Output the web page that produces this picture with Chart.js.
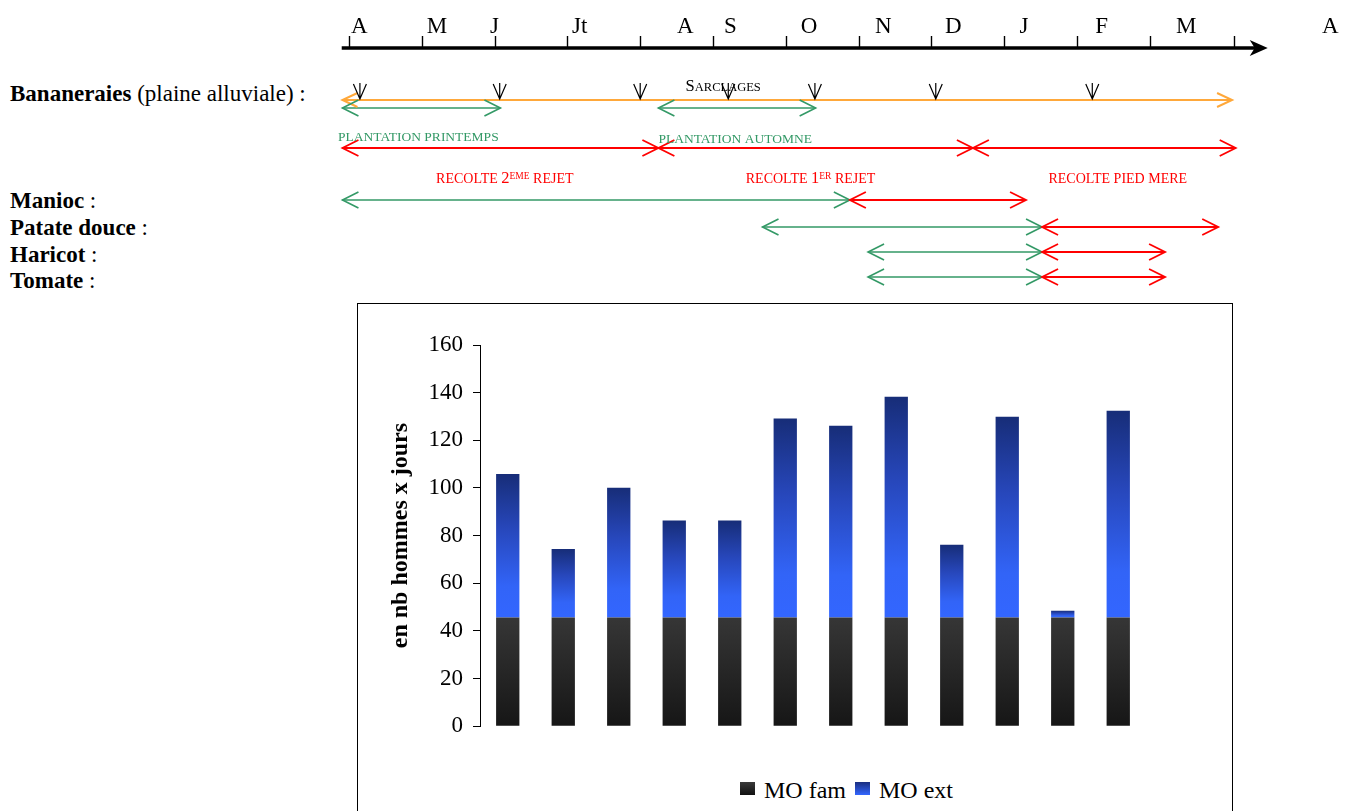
<!DOCTYPE html>
<html>
<head>
<meta charset="utf-8">
<script src="https://cdn.jsdelivr.net/npm/chart.js@4.4.1/dist/chart.umd.min.js"></script>
<style>
  html, body { margin: 0; padding: 0; background: #fff; width: 1348px; height: 811px; overflow: hidden; }
  body { position: relative; font-family: 'Liberation Serif', 'Times New Roman', serif; color: #000; }
  .crop { position: absolute; left: 10px; font-size: 23px; line-height: 23px; white-space: nowrap; }
  #timeline { position: absolute; left: 0; top: 0; }
  #frame { position: absolute; left: 357px; top: 303px; width: 876px; height: 540px; border: 1px solid #000; box-sizing: border-box; }
  #bars { position: absolute; left: 357px; top: 303px; }
  #legend { position: absolute; left: 740px; top: 778px; display: flex; align-items: flex-start; font-size: 24px; line-height: 24px; white-space: nowrap; }
  #legend .box { width: 15px; height: 13px; margin-top: 4px; margin-right: 9px; }
  #legend .item { display: flex; align-items: flex-start; margin-right: 9px; }
</style>
</head>
<body>
<div class="crop" style="top:82px"><b>Bananeraies</b> (plaine alluviale) :</div>
<div class="crop" style="top:189px"><b>Manioc</b> :</div>
<div class="crop" style="top:216px"><b>Patate douce</b> :</div>
<div class="crop" style="top:243px"><b>Haricot</b> :</div>
<div class="crop" style="top:269px"><b>Tomate</b> :</div>

<canvas id="timeline" width="1348" height="300"></canvas>
<div id="frame"></div>
<canvas id="bars" width="875" height="447"></canvas>
<div id="legend"></div>

<script>
// ---- calendrier (mois comptés depuis début avril = 0) ----
const monthLabels = ['A', 'M', 'J', 'Jt', 'A', 'S', 'O', 'N', 'D', 'J', 'F', 'M', 'A'];
const monthLabelPos = [0.14, 1.21, 2.0, 3.17, 4.62, 5.24, 6.32, 7.34, 8.3, 9.27, 10.34, 11.5, 13.48];
const monthTicks = [0, 1, 2, 3, 4, 5, 6, 7, 8, 9, 10, 11, 12.15];
const axisSpan = [-0.1, 12.62];

const bananeCycle = [[-0.09, 12.13]];
const plantationSpans = [[-0.09, 2.08], [4.25, 6.41]];
const recolteSpans = [[-0.09, 4.25], [4.25, 8.57], [8.57, 12.18]];
const sarclages = [0.15, 2.07, 4.0, 5.21, 6.4, 8.06, 10.21];

const cropNames = ['Manioc', 'Patate douce', 'Haricot', 'Tomate'];
const cropGrowth = [[-0.09, 6.88], [5.68, 9.52], [7.13, 9.52], [7.13, 9.52]];
const cropHarvest = [[6.88, 9.3], [9.52, 11.94], [9.52, 11.21], [9.52, 11.21]];

const plantationLabels = ['PLANTATION PRINTEMPS', 'PLANTATION AUTOMNE'];
const plantationLabelStart = [-0.15, 4.25];
const recolteLabels = [
  [['RECOLTE ', 14], ['2', 16.5], ['EME', 9.5, 4.5], [' REJET', 14]],
  [['RECOLTE ', 14], ['1', 16.5], ['ER', 9.5, 4.5], [' REJET', 14]],
  [['RECOLTE PIED MERE', 14]]
];
const recolteLabelCenter = [2.14, 6.34, 10.56];
const sarclageLabelCenter = 5.14;

// ---- main d'oeuvre ----
const barMonths = ['A', 'M', 'J', 'Jt', 'A', 'S', 'O', 'N', 'D', 'J', 'F', 'M'];
const moFam = [45.6, 45.6, 45.6, 45.6, 45.6, 45.6, 45.6, 45.6, 45.6, 45.6, 45.6, 45.6];
const moExt = [60.3, 28.8, 54.5, 40.7, 40.7, 83.5, 80.5, 92.7, 30.6, 84.3, 2.9, 86.8];
const yTicksMax = 160;
const yTickStep = 20;

// layout (pixel levels of the calendar rows)
const ROW = { axis: 48, sarc: 100, plant: 108, plantLbl: 141, recolte: 148, recolteLbl: 183, crops: [200, 227, 252, 277] };
const GREEN = '#339966', RED = '#ff0000', ORANGE = '#ffa83a';
const SERIF = "'Liberation Serif', 'Times New Roman', serif";

Chart.defaults.font.family = SERIF;
Chart.defaults.color = '#000';

function seg(span, row, color, width, head) {
  return {
    data: [{ x: span[0], y: row }, { x: span[1], y: row }],
    showLine: true, borderColor: color, borderWidth: width,
    pointRadius: 0, headLen: head[0], headHalf: head[1]
  };
}

const timelineSets = [];
bananeCycle.forEach(s => timelineSets.push(seg(s, ROW.sarc, ORANGE, 2, [15, 7])));
plantationSpans.forEach(s => timelineSets.push(seg(s, ROW.plant, GREEN, 1.6, [16, 8])));
recolteSpans.forEach(s => timelineSets.push(seg(s, ROW.recolte, RED, 1.8, [16, 8])));
cropNames.forEach((n, i) => {
  timelineSets.push(seg(cropGrowth[i], ROW.crops[i], GREEN, 1.6, [16, 8]));
  timelineSets.push(seg(cropHarvest[i], ROW.crops[i], RED, 1.8, [16, 8]));
});

function openHead(ctx, x, y, dir, len, half) {
  ctx.beginPath();
  ctx.moveTo(x - dir * len, y - half);
  ctx.lineTo(x, y);
  ctx.lineTo(x - dir * len, y + half);
  ctx.stroke();
}

function drawParts(ctx, parts, cx, baseY, color) {
  let w = 0;
  parts.forEach(p => { ctx.font = p[1] + 'px ' + SERIF; w += ctx.measureText(p[0]).width; });
  let xx = cx - w / 2;
  ctx.fillStyle = color;
  ctx.textAlign = 'left';
  ctx.textBaseline = 'alphabetic';
  parts.forEach(p => {
    ctx.font = p[1] + 'px ' + SERIF;
    ctx.fillText(p[0], xx, baseY - (p[2] || 0));
    xx += ctx.measureText(p[0]).width;
  });
}

const timelineDecor = {
  id: 'timelineDecor',
  afterDatasetsDraw(chart) {
    const { ctx, scales: { x, y } } = chart;
    const px = v => x.getPixelForValue(v);
    const py = v => y.getPixelForValue(v);
    ctx.save();
    ctx.lineCap = 'butt';

    // axe du temps
    const ay = py(ROW.axis);
    const tip = px(axisSpan[1]);
    ctx.strokeStyle = '#000';
    ctx.lineWidth = 3.3;
    ctx.beginPath();
    ctx.moveTo(px(axisSpan[0]), ay);
    ctx.lineTo(tip - 12, ay);
    ctx.stroke();
    ctx.fillStyle = '#000';
    ctx.beginPath();
    ctx.moveTo(tip, ay);
    ctx.lineTo(tip - 18, ay - 8);
    ctx.lineTo(tip - 13, ay);
    ctx.lineTo(tip - 18, ay + 8);
    ctx.closePath();
    ctx.fill();
    ctx.lineWidth = 1.4;
    monthTicks.forEach(m => {
      const tx = Math.round(px(m)) + 0.5;
      ctx.beginPath();
      ctx.moveTo(tx, ay);
      ctx.lineTo(tx, ay - 12);
      ctx.stroke();
    });
    ctx.font = '23px ' + SERIF;
    ctx.textAlign = 'center';
    ctx.textBaseline = 'alphabetic';
    monthLabels.forEach((t, i) => ctx.fillText(t, px(monthLabelPos[i]), ay - 15));

    // pointes de flèches
    chart.data.datasets.forEach(ds => {
      const [p0, p1] = ds.data;
      const yy = py(p0.y);
      ctx.strokeStyle = ds.borderColor;
      ctx.lineWidth = ds.borderWidth;
      openHead(ctx, px(p0.x), yy, -1, ds.headLen, ds.headHalf);
      openHead(ctx, px(p1.x), yy, 1, ds.headLen, ds.headHalf);
    });

    // sarclages
    ctx.strokeStyle = '#000';
    ctx.lineWidth = 1.2;
    const sy = py(ROW.sarc) - 1;
    sarclages.forEach(m => {
      const sx = px(m);
      ctx.beginPath();
      ctx.moveTo(sx, sy - 16);
      ctx.lineTo(sx, sy);
      ctx.moveTo(sx - 6.5, sy - 15);
      ctx.lineTo(sx, sy);
      ctx.lineTo(sx + 6.5, sy - 15);
      ctx.stroke();
    });
    drawParts(ctx, [['S', 16.5], ['ARCLAGES', 12.5]], px(sarclageLabelCenter), py(ROW.sarc) - 9, '#000');

    // libellés
    ctx.font = '13.5px ' + SERIF;
    ctx.fillStyle = GREEN;
    ctx.textAlign = 'left';
    plantationLabels.forEach((t, i) => ctx.fillText(t, px(plantationLabelStart[i]), py(ROW.plantLbl) + i * 2));
    recolteLabels.forEach((parts, i) => drawParts(ctx, parts, px(recolteLabelCenter[i]), py(ROW.recolteLbl), RED));
    ctx.restore();
  }
};

new Chart(document.getElementById('timeline'), {
  type: 'scatter',
  data: { datasets: timelineSets },
  options: {
    responsive: false,
    animation: false,
    devicePixelRatio: 1,
    layout: { padding: 0 },
    plugins: { legend: { display: false }, tooltip: { enabled: false } },
    scales: {
      x: { type: 'linear', display: false, min: -349 / 72.8, max: -349 / 72.8 + 1348 / 72.8 },
      y: { type: 'linear', display: false, min: 0, max: 300, reverse: true }
    }
  },
  plugins: [timelineDecor]
});

// ---- histogramme ----
const famStops = [[0, '#161616'], [1, '#363636']];
const extStops = [[0, '#3366ff'], [0.22, '#3264f7'], [0.62, '#2747bb'], [1, '#172d78']];

function columnGradient(context, low, high, stops) {
  const chart = context.chart;
  const ys = chart.scales.y;
  if (!chart.chartArea || !ys) return stops[stops.length - 1][1];
  const yb = ys.getPixelForValue(low);
  const yt = ys.getPixelForValue(high);
  if (!isFinite(yb) || !isFinite(yt) || yb === yt) return stops[0][1];
  const g = chart.ctx.createLinearGradient(0, yb, 0, yt);
  stops.forEach(([o, c]) => g.addColorStop(o, c));
  return g;
}

const barChart = new Chart(document.getElementById('bars'), {
  type: 'bar',
  data: {
    labels: barMonths,
    datasets: [
      {
        label: 'MO fam',
        data: moFam,
        backgroundColor: c => columnGradient(c, 0, moFam[c.dataIndex], famStops),
        legendCss: 'linear-gradient(#3a3a3a, #111)'
      },
      {
        label: 'MO ext',
        data: moExt,
        backgroundColor: c => columnGradient(c, moFam[c.dataIndex], moFam[c.dataIndex] + moExt[c.dataIndex], extStops),
        legendCss: 'linear-gradient(#1a2e80, #3366ff)'
      }
    ]
  },
  options: {
    responsive: false,
    animation: false,
    devicePixelRatio: 1,
    layout: { padding: { top: 42, right: 86, bottom: 11, left: 0 } },
    datasets: { bar: { barPercentage: 0.42, categoryPercentage: 1 } },
    plugins: { legend: { display: false }, tooltip: { enabled: false } },
    scales: {
      x: { stacked: true, display: false },
      y: {
        stacked: true,
        min: 0,
        max: yTicksMax,
        afterFit: s => { s.width = 123; },
        ticks: { stepSize: yTickStep, padding: 10, color: '#000', font: { size: 23, family: SERIF } },
        grid: { drawOnChartArea: false, drawTicks: true, tickLength: 7, color: '#000' },
        border: { display: true, color: '#000', width: 1 },
        title: {
          display: true,
          text: 'en nb hommes x jours',
          color: '#000',
          padding: { top: 29, bottom: 0 },
          font: { size: 24, weight: 'bold', family: SERIF }
        }
      }
    }
  }
});

// légende
const legendEl = document.getElementById('legend');
barChart.data.datasets.forEach(ds => {
  const item = document.createElement('div');
  item.className = 'item';
  const box = document.createElement('div');
  box.className = 'box';
  box.style.background = ds.legendCss;
  const txt = document.createElement('span');
  txt.textContent = ds.label;
  item.appendChild(box);
  item.appendChild(txt);
  legendEl.appendChild(item);
});
</script>
</body>
</html>
